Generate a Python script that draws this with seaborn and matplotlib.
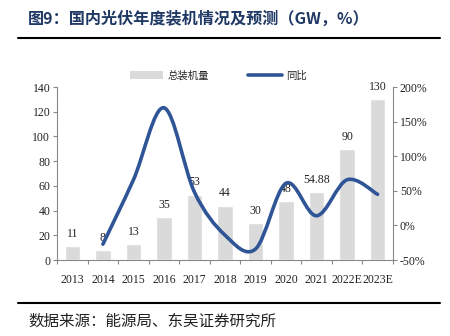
import matplotlib
matplotlib.use("Agg")
import matplotlib.pyplot as plt
import seaborn as sns
import numpy as np
import pandas as pd
from matplotlib.path import Path
from matplotlib.patches import PathPatch, Patch
from matplotlib.lines import Line2D

years = ["2013", "2014", "2015", "2016", "2017", "2018", "2019", "2020", "2021", "2022E", "2023E"]
capacity = [11, 8, 13, 35, 53, 44, 30, 48, 54.88, 90, 130]
cap_labels = ["11", "8", "13", "35", "53", "44", "30", "48", "54.88", "90", "130"]
growth_years = years[1:]
growth = [-27, 66, 170, 48, -14, -34, 61, 14, 66, 45]

sns.set_theme(style="white")
plt.rcParams['font.family'] = ['Liberation Serif', 'Noto Sans CJK SC', 'DejaVu Sans']

fig = plt.figure(figsize=(4.5, 3.36), dpi=100)
ax = fig.add_axes([0.127, 0.226, 0.746, 0.515])

df = pd.DataFrame({"year": years, "cap": capacity})
sns.barplot(data=df, x="year", y="cap", color="#dadada", saturation=1, width=0.5, ax=ax, zorder=1)
ax.set_ylim(0, 140)
ax.set_xlim(-0.5, len(years) - 0.5)
ax.set_yticks(range(0, 141, 20))
ax.set_xlabel("")
ax.set_ylabel("")
for i, (v, lab) in enumerate(zip(capacity, cap_labels)):
    ax.text(i, v + 5, lab, ha="center", va="bottom", fontsize=8.5, color="#222222",
            family="Liberation Serif", zorder=5)

ax2 = ax.twinx()
ax2.set_ylim(-50, 200)
ax2.set_yticks(range(-50, 201, 50))
ax2.set_yticklabels([f"{t}%" for t in range(-50, 201, 50)])

# smooth curve through growth points (Catmull-Rom -> cubic Bezier segments)
xs = np.arange(1, len(years), dtype=float)
ys = np.array(growth, dtype=float)
n = len(xs)
verts = [(xs[0], ys[0])]
codes = [Path.MOVETO]
for i in range(n - 1):
    p0 = (xs[i - 1], ys[i - 1]) if i > 0 else (xs[i], ys[i])
    p1 = (xs[i], ys[i])
    p2 = (xs[i + 1], ys[i + 1])
    p3 = (xs[i + 2], ys[i + 2]) if i + 2 < n else (xs[i + 1], ys[i + 1])
    t = 1 / 6
    c1 = (p1[0] + (p2[0] - p0[0]) * t, p1[1] + (p2[1] - p0[1]) * t)
    c2 = (p2[0] - (p3[0] - p1[0]) * t, p2[1] - (p3[1] - p1[1]) * t)
    verts += [c1, c2, p2]
    codes += [Path.CURVE4] * 3
path = Path(verts, codes)
ax2.add_patch(PathPatch(path, facecolor="none", edgecolor="#2f5597", lw=2.6,
                        capstyle="round", joinstyle="round", zorder=4))

for a in (ax, ax2):
    for s in a.spines.values():
        s.set_visible(False)
    a.tick_params(labelsize=8.5, colors="#222222")
ax.spines["left"].set_visible(True)
ax.spines["bottom"].set_visible(True)
ax2.spines["right"].set_visible(True)
for s in (ax.spines["left"], ax.spines["bottom"], ax2.spines["right"]):
    s.set_color("#888888")
    s.set_linewidth(0.8)
ax.tick_params(axis="y", left=True, length=3, width=0.8, color="#888888", pad=2)
ax2.tick_params(axis="y", right=True, length=3, width=0.8, color="#888888", pad=2)
ax.set_xticks(np.arange(len(years)))
ax.set_xticklabels(years)
ax.tick_params(axis="x", bottom=False, pad=4)
ax.set_xticks(np.arange(-0.5, len(years) + 0.5, 1), minor=True)
ax.tick_params(axis="x", which="minor", bottom=True, length=3, width=0.8, color="#888888")
ax.set_zorder(ax2.get_zorder() - 1)
ax2.patch.set_visible(False)

handles = [Patch(facecolor="#dadada", edgecolor="none"),
           Line2D([0], [0], color="#2f5597", lw=2.6)]
fig.legend(handles, ["总装机量", "同比"], loc="center", bbox_to_anchor=(0.485, 0.775),
           ncol=2, frameon=False, prop={"family": "Noto Sans CJK SC", "size": 7.5},
           handlelength=3.2, columnspacing=3.8, handletextpad=0.4)

fig.text(0.062, 0.945, "图9：国内光伏年度装机情况及预测（GW，%）", fontsize=11.6, fontweight="bold",
         color="#1f3864", va="center", family=["Noto Sans CJK SC", "DejaVu Sans"])
fig.add_artist(Line2D([0.04, 0.978], [0.887, 0.887], color="black", lw=1.5))
fig.add_artist(Line2D([0.04, 0.978], [0.098, 0.098], color="black", lw=1.5))
fig.text(0.062, 0.045, "数据来源：能源局、东吴证券研究所", fontsize=11.2, color="#222222",
         va="center", family=["Noto Sans CJK SC", "DejaVu Sans"])

fig.savefig("out.png", dpi=100)
